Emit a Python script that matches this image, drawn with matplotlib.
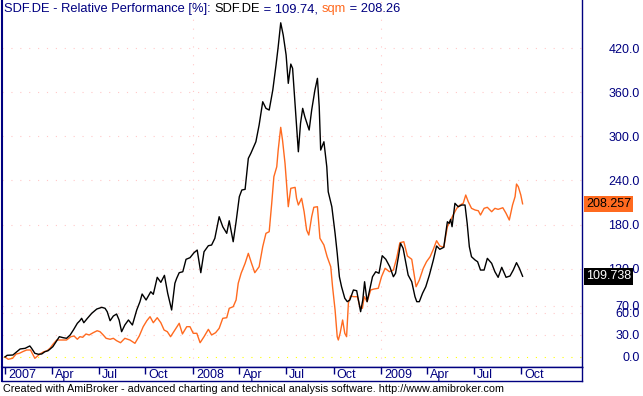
import matplotlib
matplotlib.use('Agg')
import matplotlib.pyplot as plt
import matplotlib.transforms as mtransforms
import numpy as np

W, H = 643, 396
NAVY = '#000080'
ORANGE = '#FF6A1F'
PINK = '#FFC8C8'
plt.rcParams['font.family'] = ['Liberation Sans', 'DejaVu Sans']

# weeks since 2007-01-01, values in % (relative performance)
sdf_weeks = [0, 0.6, 2.2, 3.3, 4.2, 5.6, 6.9, 7.4, 8.3, 9.3,
             10.2, 11.1, 12.0, 13.3, 14.4, 15.1, 16.2, 17.1, 18.1, 19.0,
             20.1, 20.8, 21.3, 21.9, 22.9, 24.1, 25.5, 26.9, 27.8, 28.4,
             29.2, 30.1, 31.0, 31.7, 32.4, 33.3, 34.3, 35.4, 36.6, 37.5,
             38.1, 39.2, 40.5, 41.2, 42.3, 43.3, 44.3, 45.2, 46.3, 47.2,
             47.7, 48.4, 49.4, 50.3, 51.4, 52.5, 53.4, 54.4, 55.3, 56.5,
             57.4, 58.3, 59.5, 60.5, 61.6, 62.3, 63.4, 64.2, 65.1, 65.8,
             66.7, 67.6, 68.3, 69.7, 70.6, 71.6, 72.5, 73.4, 74.4, 75.3,
             75.9, 76.6, 77.3, 78.1, 78.7, 79.4, 79.9, 80.6, 81.5, 82.1,
             82.7, 83.3, 84.5, 85.2, 86.1, 86.8, 87.3, 87.7, 88.6, 89.4,
             89.8, 90.8, 91.7, 92.3, 92.9, 93.5, 94.4, 95.1, 95.8, 96.8,
             97.7, 98.8, 99.4, 99.9, 100.6, 101.4, 102.1, 103.0, 103.9, 104.8,
             105.8, 106.9, 107.9, 108.5, 109.3, 109.9, 110.6, 111.4, 112.0, 113.0,
             113.9, 114.4, 115.1, 116.0, 116.9, 117.9, 119.0, 119.9, 120.8, 121.9,
             122.9, 123.4, 123.8, 124.2, 125.0, 125.9, 126.9, 127.8, 128.4, 129.0,
             129.6, 130.6, 131.3, 132.1, 133.1, 134.0, 135.2, 136.1, 137.0, 138.0,
             139.2, 140.3, 141.2, 142.1, 142.9, 143.8]
sdf_vals = [0, 2.3, 2.7, 7.2, 10.9, 11.8, 15.0, 11.8, 5.0, 3.7,
            4.1, 7.2, 8.6, 14.0, 22.2, 27.6, 26.2, 25.4, 29.9, 36.7,
            45.8, 49.3, 52.6, 46.6, 52.6, 59.4, 65.2, 67.5, 66.2, 61.6,
            49.3, 55.7, 58.4, 50.3, 34.4, 43.5, 50.3, 43.5, 63.9, 75.2,
            85.6, 77.5, 88.7, 85.2, 108.3, 101.5, 111.0, 86.6, 63.9, 100.2,
            107.0, 114.6, 115.9, 132.8, 135.0, 141.7, 145.4, 114.6, 143.1, 151.3,
            152.2, 161.3, 190.7, 177.1, 168.1, 185.2, 156.7, 183.9, 217.9, 227.0,
            227.9, 270.0, 276.8, 292.6, 315.3, 347.0, 338.0, 335.7, 362.9, 396.9,
            421.7, 454.3, 437.6, 410.5, 372.0, 398.2, 392.4, 342.5, 279.0, 317.6,
            338.0, 326.6, 308.5, 335.7, 362.9, 378.8, 340.2, 281.3, 292.6, 258.6,
            224.6, 204.3, 168.1, 140.9, 109.1, 95.5, 79.8, 75.2, 77.5, 91.1,
            90.1, 61.6, 77.5, 102.3, 75.2, 93.4, 109.1, 115.9, 113.8, 137.7,
            132.8, 122.7, 109.1, 113.8, 136.3, 154.5, 147.7, 127.3, 111.4, 102.3,
            82.0, 75.2, 75.2, 86.6, 95.5, 111.4, 131.8, 150.9, 146.4, 149.1,
            183.9, 181.7, 187.1, 177.1, 208.9, 204.3, 206.6, 206.6, 181.7, 149.9,
            136.3, 131.8, 129.5, 118.2, 118.2, 134.1, 127.3, 115.9, 108.3, 121.9,
            108.3, 110.1, 118.2, 128.2, 120.6, 109.738]

sqm_weeks = [0, 0.9, 2.1, 3.1, 4.0, 4.9, 6.0, 7.1, 8.3, 9.7,
             10.8, 11.6, 12.5, 13.4, 14.4, 15.8, 17.1, 18.3, 19.2, 20.1,
             20.8, 21.6, 22.5, 23.4, 24.5, 25.6, 26.4, 27.3, 28.1, 29.2,
             30.1, 31.0, 32.1, 33.3, 34.7, 36.1, 37.3, 38.4, 39.4, 40.3,
             41.2, 42.3, 43.3, 44.2, 45.1, 46.0, 47.2, 48.4, 49.3, 50.5,
             51.4, 52.3, 53.3, 54.2, 55.3, 56.5, 57.4, 58.5, 59.5, 60.5,
             61.6, 62.3, 63.4, 64.2, 64.8, 65.6, 66.7, 67.6, 68.5, 69.4,
             70.6, 71.6, 72.5, 73.4, 74.1, 74.7, 75.5, 75.9, 76.6, 77.1,
             77.8, 78.3, 78.7, 79.4, 80.6, 81.0, 81.5, 82.4, 83.1, 83.8,
             84.4, 85.2, 85.8, 86.8, 87.5, 88.6, 89.5, 90.5, 91.0, 91.7,
             92.3, 92.6, 93.1, 93.8, 94.4, 94.9, 95.4, 96.0, 96.9, 97.9,
             98.6, 99.3, 99.8, 100.6, 101.6, 102.5, 103.7, 104.6, 105.6, 106.8,
             107.9, 108.8, 109.7, 110.8, 111.8, 113.0, 114.2, 115.1, 116.2, 117.1,
             118.1, 119.0, 119.9, 120.8, 121.9, 122.9, 123.6, 124.5, 125.5, 126.4,
             127.3, 128.0, 128.7, 129.6, 130.6, 131.5, 132.1, 133.1, 134.0, 135.2,
             136.1, 137.0, 138.3, 139.2, 140.1, 141.0, 141.7, 142.1, 142.6, 143.3,
             143.8]
sqm_vals = [0, -3.1, -1.8, 4.1, 5.0, 7.2, 9.5, 9.5, -1.8, 4.1,
            7.2, 8.2, 11.8, 17.7, 23.1, 23.1, 23.1, 27.6, 28.5, 24.1,
            27.6, 26.8, 31.3, 29.9, 33.0, 35.7, 34.4, 29.9, 25.4, 24.1,
            25.4, 22.2, 19.4, 25.4, 23.1, 18.6, 28.5, 41.2, 49.3, 54.8,
            46.6, 53.4, 46.6, 36.7, 34.4, 27.6, 36.7, 45.8, 31.3, 41.2,
            41.2, 32.2, 32.2, 19.4, 27.6, 37.6, 29.9, 33.0, 39.0, 52.6,
            53.4, 66.2, 68.4, 77.5, 100.2, 113.8, 127.3, 140.9, 127.3, 114.6,
            122.7, 149.9, 168.1, 170.3, 208.9, 245.1, 258.6, 281.3, 312.2, 294.9,
            263.2, 231.4, 204.3, 229.3, 230.6, 215.7, 206.6, 215.7, 197.5, 172.6,
            165.8, 190.7, 203.5, 204.3, 161.3, 152.2, 136.3, 122.7, 95.5, 63.9,
            27.6, 23.1, 32.2, 50.3, 32.2, 27.6, 73.0, 82.9, 82.0, 82.0,
            68.4, 66.2, 82.0, 75.2, 91.1, 92.4, 93.4, 109.1, 120.6, 115.9,
            118.2, 134.1, 155.3, 156.7, 137.3, 132.8, 95.5, 104.6, 120.6, 129.5,
            136.3, 146.4, 158.1, 150.9, 149.1, 177.1, 183.9, 193.0, 202.1, 206.6,
            208.9, 220.2, 211.1, 202.1, 199.8, 198.8, 193.0, 202.1, 203.5, 197.5,
            202.1, 200.7, 202.9, 195.3, 186.2, 206.6, 217.9, 235.1, 231.5, 220.2,
            208.257]

ytick_vals = [0, 30, 60, 70, 120, 180, 240, 300, 360, 420]
xtick_dates = ['2007-01-02', '2007-04-02', '2007-07-02', '2007-10-01',
               '2008-01-02', '2008-04-01', '2008-07-01', '2008-10-01',
               '2009-01-02', '2009-04-01', '2009-07-01', '2009-10-01']
xtick_labels = ['2007', 'Apr', 'Jul', 'Oct', '2008', 'Apr', 'Jul', 'Oct',
                '2009', 'Apr', 'Jul', 'Oct']
year_lines = ['2008-01-02', '2009-01-02']

start = np.datetime64('2007-01-01T00')


def to_dates(weeks):
    return start + np.round(np.array(weeks) * 7 * 24).astype('timedelta64[h]')


fig = plt.figure(figsize=(W / 100, H / 100), dpi=100)
ax = fig.add_axes([2 / W, 29 / H, 580 / W, 367 / H])
strip = fig.add_axes([2 / W, 15 / H, 580 / W, 14 / H])

xlo, xhi = to_dates([-0.83, 160.3])
ax.set_xlim(xlo, xhi)
strip.set_xlim(xlo, xhi)
ax.set_ylim(-13.6, 485.3)

# grid
for v in ytick_vals:
    ax.axhline(v, color='#FFFF00' if v == 0 else PINK, lw=0.8, ls=(0, (1, 7)), zorder=1)
for d in year_lines:
    ax.axvline(np.datetime64(d), color=PINK, lw=0.8, ls=(0, (1, 7)), zorder=1)

ax.plot(to_dates(sqm_weeks), sqm_vals, color=ORANGE, lw=1.0, zorder=3)
ax.plot(to_dates(sdf_weeks), sdf_vals, color='black', lw=1.0, zorder=4)

# right axis
ax.set_yticks(ytick_vals)
ax.set_yticklabels([f'{v:.1f}' for v in ytick_vals])
ax.tick_params(axis='y', left=False, right=False, labelleft=False, labelright=True,
               length=0, pad=41.5, labelcolor=NAVY, labelsize=9)
plt.setp(ax.get_yticklabels(), ha='right')
ax.tick_params(axis='x', bottom=False, labelbottom=False)
for side in ['left', 'right', 'bottom']:
    ax.spines[side].set_color(NAVY)
ax.spines['left'].set_linewidth(1.5)
ax.spines['right'].set_linewidth(1.0)
ax.spines['bottom'].set_linewidth(1.0)
ax.spines['top'].set_visible(False)

# last value boxes
ax.annotate(f'{sqm_vals[-1]:.3f}', xy=(1, sqm_vals[-1]), xycoords=('axes fraction', 'data'),
            xytext=(4, 0), textcoords='offset pixels', ha='left', va='center',
            color='black', fontsize=9, annotation_clip=False,
            bbox=dict(boxstyle='square,pad=0.18', fc=ORANGE, ec='none'))
ax.annotate(f'{sdf_vals[-1]:.3f}', xy=(1, sdf_vals[-1]), xycoords=('axes fraction', 'data'),
            xytext=(4, 0), textcoords='offset pixels', ha='left', va='center',
            color='white', fontsize=9, annotation_clip=False,
            bbox=dict(boxstyle='square,pad=0.18', fc='black', ec='none'))

# date strip
strip.set_ylim(0, 1)
strip.set_yticks([])
tick_d = np.array(xtick_dates, dtype='datetime64[D]')
strip.set_xticks(tick_d)
strip.tick_params(axis='x', direction='in', top=True, bottom=False, labelbottom=False,
                  length=5, width=1, color=NAVY)
for s in strip.spines.values():
    s.set_color(NAVY)
    s.set_linewidth(1.0)
strip.spines['left'].set_linewidth(1.5)
trans = mtransforms.blended_transform_factory(strip.transData, strip.transAxes) + \
    mtransforms.ScaledTranslation(3 / 100, 0, fig.dpi_scale_trans)
for d, lab in zip(tick_d, xtick_labels):
    strip.text(d, 0.4, lab, transform=trans, ha='left', va='center', color=NAVY, fontsize=9)

# title, pieces in their own colours
fig.canvas.draw()
r = fig.canvas.get_renderer()
title_parts = [('SDF.DE - Relative Performance [%]: ', NAVY),
               ('SDF.DE', 'black'),
               (f' = {sdf_vals[-1]:.2f}, ', NAVY),
               ('sqm', ORANGE),
               (f' = {sqm_vals[-1]:.2f}', NAVY)]
x = 4
for s, c in title_parts:
    t = fig.text(x / W, 1 - 9 / H, s, color=c, fontsize=9.3, ha='left', va='center')
    x += t.get_window_extent(renderer=r).width

fig.text(3 / W, 1 - 392 / H,
         'Created with AmiBroker - advanced charting and technical analysis software. http://www.amibroker.com',
         fontsize=7.8, ha='left', va='baseline', color='black')

fig.savefig('out.png', dpi=100)
